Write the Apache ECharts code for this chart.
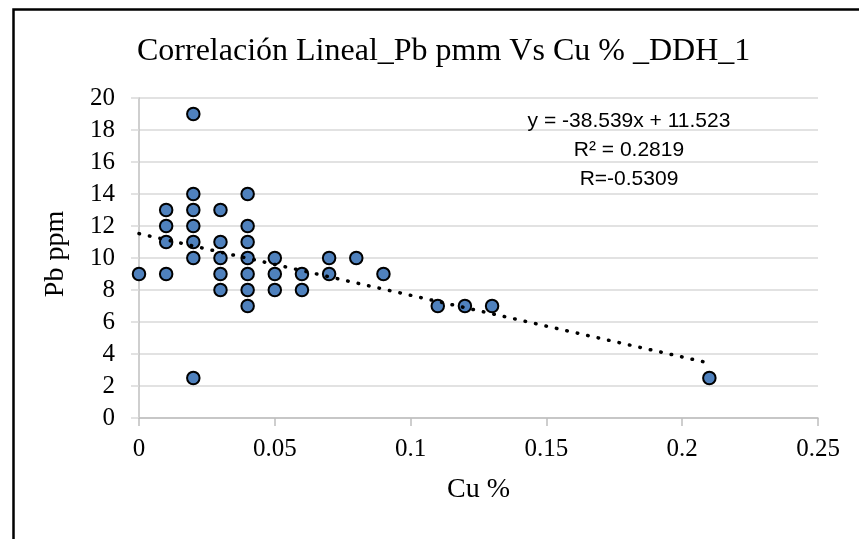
<!DOCTYPE html>
<html>
<head>
<meta charset="utf-8">
<script src="https://cdn.jsdelivr.net/npm/echarts@6/dist/echarts.min.js"></script>
<style>
html,body{margin:0;padding:0;background:#fff;}
#c{width:859px;height:539px;}
</style>
</head>
<body>
<div id="c"></div>
<script>
// Cu % (x) and Pb ppm (y) pairs
const cuPct = [0, 0.01, 0.01, 0.01, 0.01, 0.02, 0.02, 0.02, 0.02, 0.02, 0.02, 0.02,
  0.03, 0.03, 0.03, 0.03, 0.03, 0.04, 0.04, 0.04, 0.04, 0.04, 0.04, 0.04,
  0.05, 0.05, 0.05, 0.06, 0.06, 0.07, 0.07, 0.08, 0.09, 0.11, 0.12, 0.13, 0.21];
const pbPpm = [9, 13, 12, 11, 9, 19, 14, 13, 12, 11, 10, 2.5,
  13, 11, 10, 9, 8, 14, 12, 11, 10, 9, 8, 7,
  10, 9, 8, 9, 8, 10, 9, 10, 9, 7, 7, 7, 2.5];
// Linear trendline end points (x from 0 to 0.21)
const trendX = [0, 0.21];
const trendY = [11.523, 3.43];
const titleText = 'Correlación Lineal_Pb pmm Vs Cu % _DDH_1';
const eqLines = ['y = -38.539x + 11.523', 'R² = 0.2819', 'R=-0.5309'];

const points = cuPct.map((x, i) => [x, pbPpm[i]]);
const trend = trendX.map((x, i) => [x, trendY[i]]);

const chart = echarts.init(document.getElementById('c'), null, {renderer: 'canvas'});
const serif = 'Liberation Serif';
chart.setOption({
  animation: false,
  backgroundColor: '#fff',
  title: {
    text: titleText,
    left: 132, top: 31,
    textStyle: {fontFamily: serif, fontSize: 32, fontWeight: 'normal', color: '#000'}
  },
  grid: {left: 139, right: 41, top: 98, bottom: 121},
  xAxis: {
    type: 'value', min: 0, max: 0.25, interval: 0.05,
    name: 'Cu %', nameLocation: 'middle', nameGap: 58,
    nameTextStyle: {fontFamily: serif, fontSize: 28, color: '#000'},
    axisLine: {show: true, onZero: false, lineStyle: {color: '#bfbfbf', width: 1.5}},
    axisTick: {show: true, length: 8, lineStyle: {color: '#bfbfbf', width: 1.5}},
    axisLabel: {fontFamily: serif, fontSize: 25, color: '#000', margin: 19},
    splitLine: {show: false}
  },
  yAxis: {
    type: 'value', min: 0, max: 20, interval: 2,
    name: 'Pb ppm', nameLocation: 'middle', nameGap: 69, nameRotate: 90,
    nameTextStyle: {fontFamily: serif, fontSize: 28, color: '#000', padding: [0, 0, 0, 8]},
    axisLine: {show: true, lineStyle: {color: '#bfbfbf', width: 1.5}},
    axisTick: {show: true, length: 8, lineStyle: {color: '#d9d9d9', width: 1.5}},
    axisLabel: {fontFamily: serif, fontSize: 25, color: '#000', margin: 24},
    splitLine: {show: true, lineStyle: {color: '#d9d9d9', width: 1.5}}
  },
  graphic: [
    {type: 'rect', left: 11, top: 7, z: 100,
     shape: {width: 900, height: 600},
     style: {fill: 'none', stroke: '#000', lineWidth: 2.5}},
    {type: 'text', z: 100,
     x: 629, y: 107,
     style: {text: eqLines.join('\n'), fontFamily: 'Liberation Sans', fontSize: 21,
             lineHeight: 29, fill: '#000', align: 'center', verticalAlign: 'top'}}
  ],
  series: [
    {
      type: 'line', data: trend, showSymbol: false, symbol: 'none', z: 3,
      lineStyle: {color: '#000', width: 3.5, type: [0.5, 10.2], cap: 'round'}
    },
    {
      type: 'scatter', data: points, symbol: 'circle', symbolSize: 12.5, z: 2,
      itemStyle: {color: '#4f81bd', borderColor: '#000', borderWidth: 2, opacity: 1}
    }
  ]
});
</script>
</body>
</html>
